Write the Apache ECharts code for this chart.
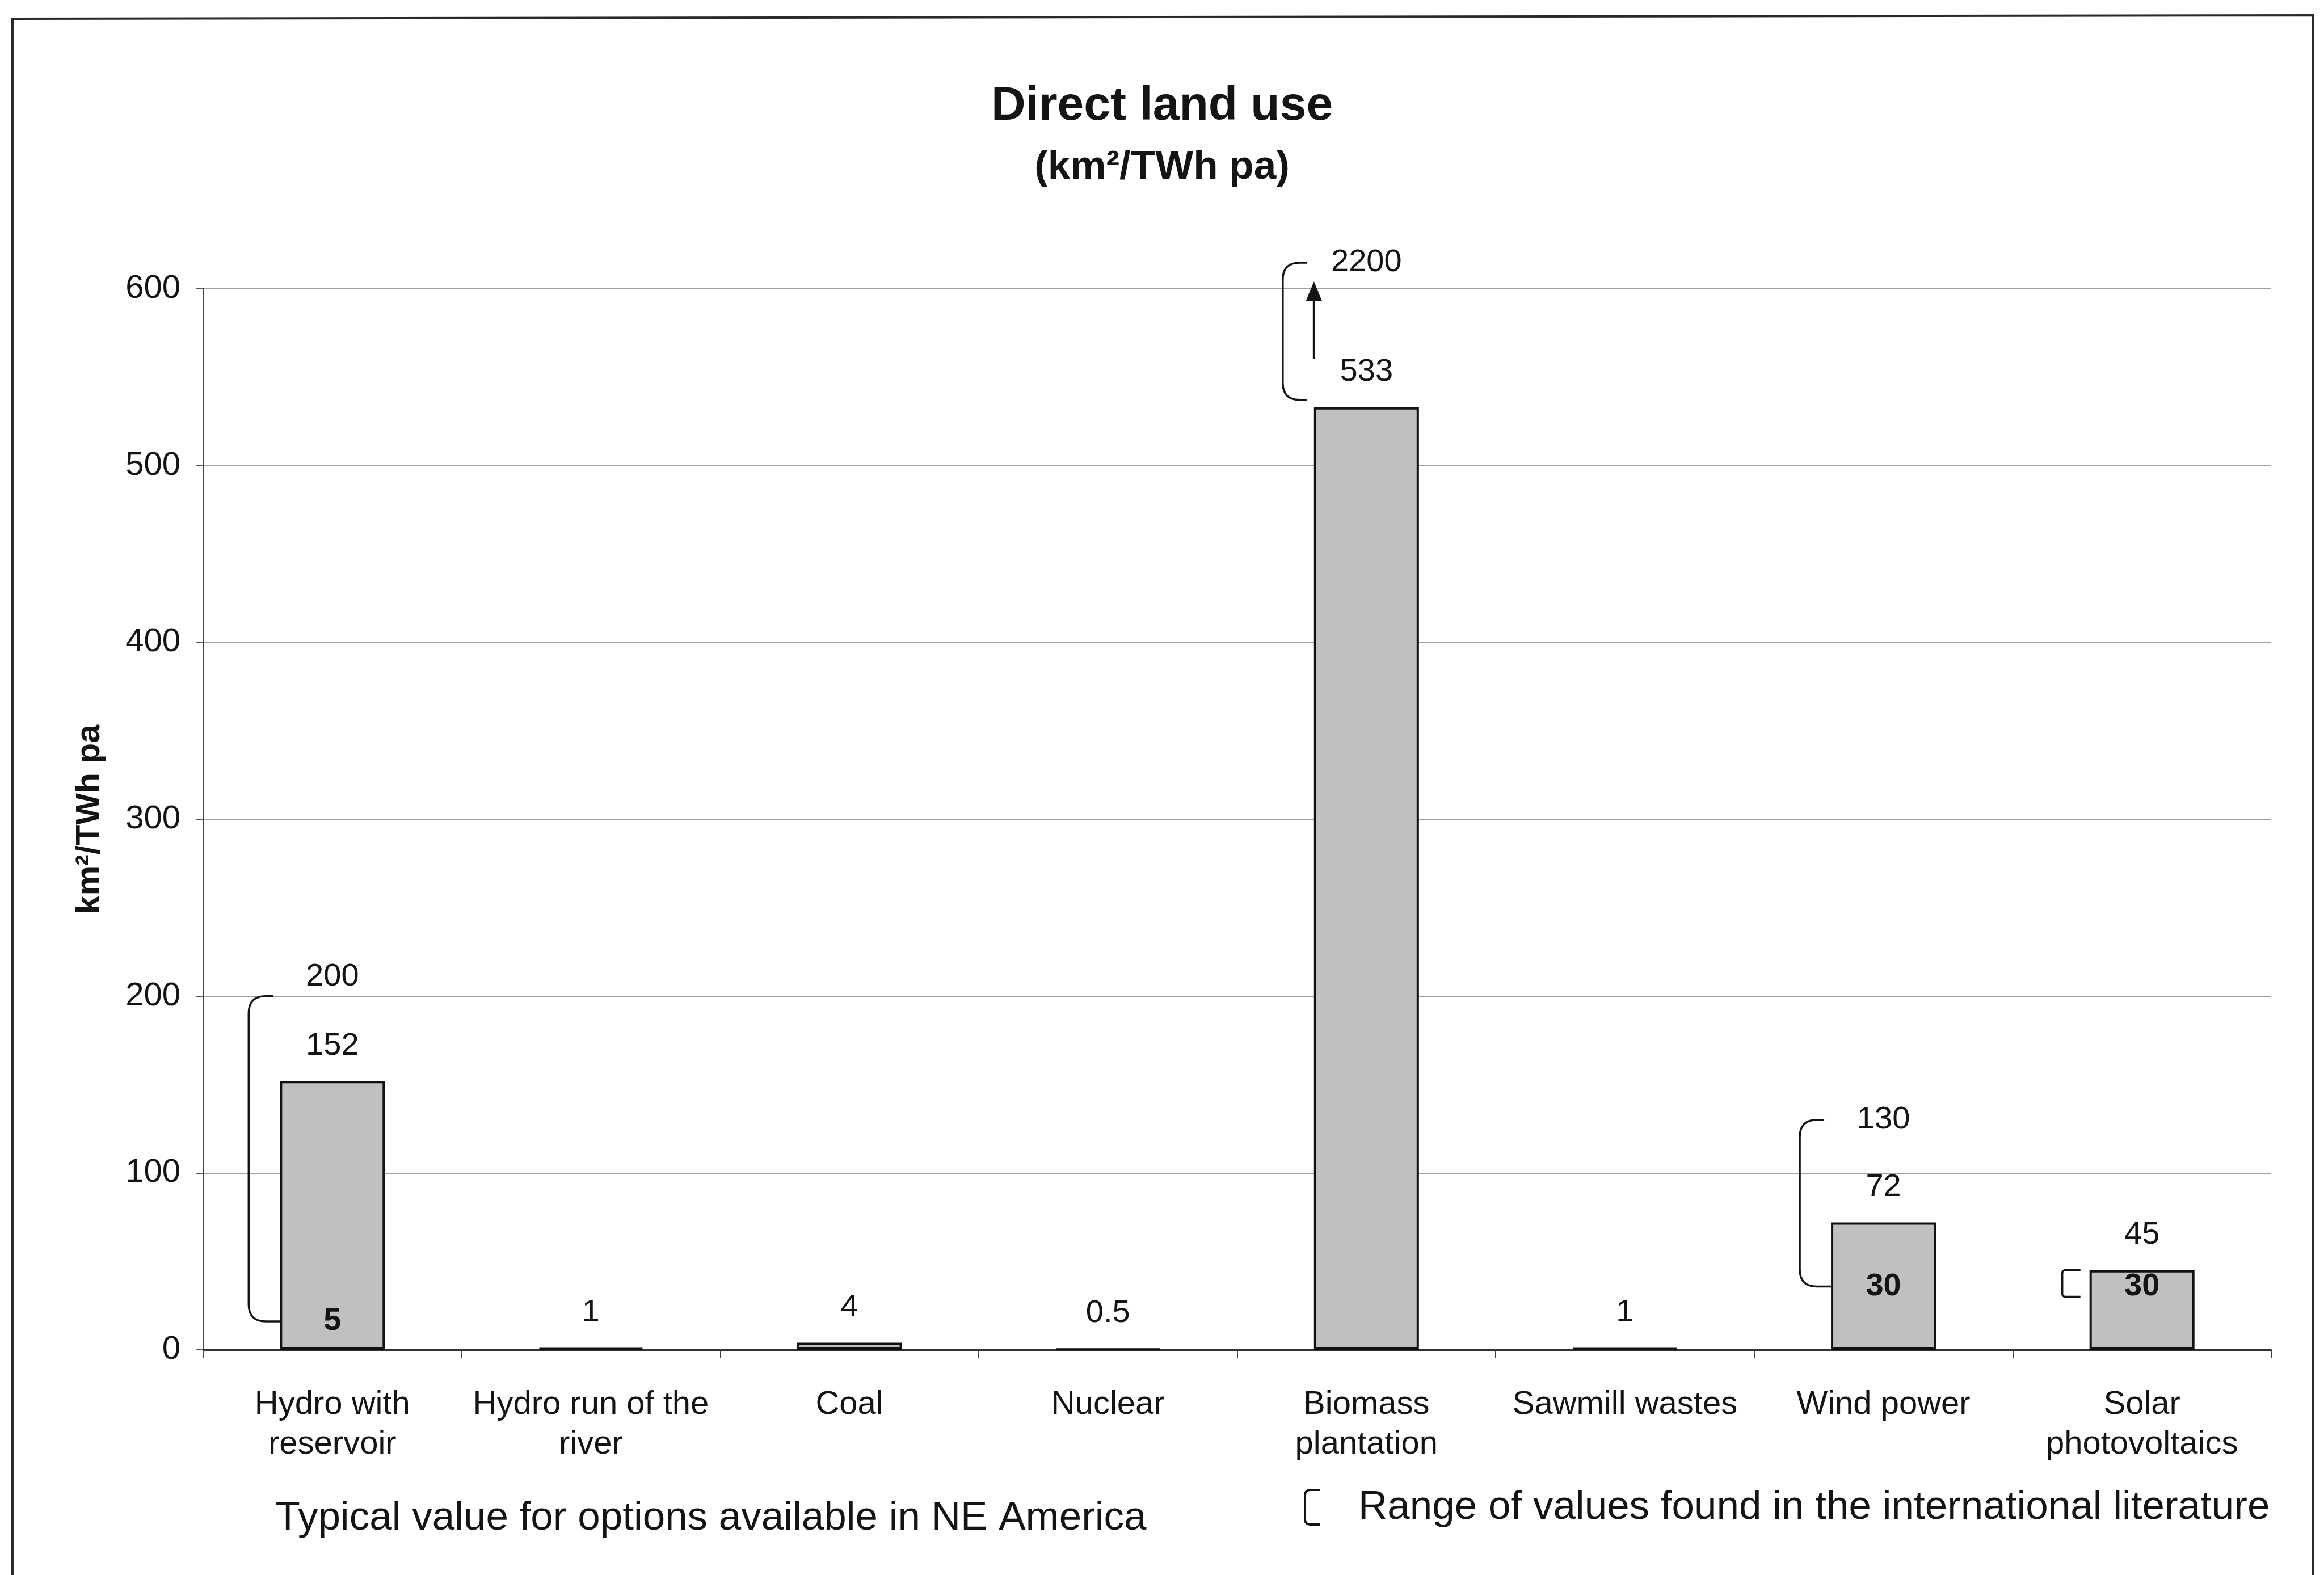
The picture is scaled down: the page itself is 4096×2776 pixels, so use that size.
<!DOCTYPE html>
<html>
<head>
<meta charset="utf-8">
<script src="https://cdn.jsdelivr.net/npm/echarts@6/dist/echarts.min.js"></script>
<style>
html,body{margin:0;padding:0;background:#fff;}
#chart{width:4096px;height:2776px;}
</style>
</head>
<body>
<div id="chart"></div>
<script>
// ---- data ----
const categories = ['Hydro with\nreservoir', 'Hydro run of the\nriver', 'Coal', 'Nuclear',
  'Biomass\nplantation', 'Sawmill wastes', 'Wind power', 'Solar\nphotovoltaics'];
const typicalValues = [152, 1, 4, 0.5, 533, 1, 72, 45];
const rangeLow = [5, null, null, null, 533, null, 30, 30];
const rangeHigh = [200, null, null, null, 2200, null, 130, 45];
const yMin = 0, yMax = 600, yInterval = 100;

// ---- styling ----
const FONT = '"Liberation Sans", Arial, Helvetica, sans-serif';
const BAR_W = 185;
const INK = '#141414';

const rangeData = [];
categories.forEach((c, i) => {
  if (rangeLow[i] != null) rangeData.push([i, rangeLow[i], rangeHigh[i], typicalValues[i]]);
});

function quad(p0, p1, p2, n) {
  const pts = [];
  for (let k = 0; k <= n; k++) {
    const t = k / n, u = 1 - t;
    pts.push([u * u * p0[0] + 2 * u * t * p1[0] + t * t * p2[0],
              u * u * p0[1] + 2 * u * t * p1[1] + t * t * p2[1]]);
  }
  return pts;
}

function bracketPoints(bx, yTop, yBot, topEnd, botEnd, r) {
  let pts = [[topEnd, yTop]];
  pts = pts.concat(quad([bx + r, yTop], [bx, yTop], [bx, yTop + r], 8));
  pts = pts.concat(quad([bx, yBot - r], [bx, yBot], [bx + r, yBot], 8));
  pts.push([botEnd, yBot]);
  return pts;
}

function renderBracket(params, api) {
  const i = api.value(0), low = api.value(1), high = api.value(2), val = api.value(3);
  const base = api.coord([i, 0]);
  const cx = base[0], y0 = base[1];
  const yTopAxis = api.coord([i, yMax])[1];
  const barLeft = cx - BAR_W / 2;
  const clipped = high > yMax;
  const yTop = clipped ? yTopAxis - 46 : api.coord([i, high])[1];
  const yLow = api.coord([i, low])[1];
  const small = (yLow - yTop) < 100;
  let yBot, labelY = null;
  if (low >= val) {
    yBot = yLow - 13;
  } else {
    labelY = Math.min(yLow - 18, y0 - 50);
    yBot = small ? yLow : labelY;
  }
  const span = yBot - yTop;
  const bx = small ? barLeft - 48 : barLeft - 55;
  const r = Math.min(30, span / 8);
  const topEnd = small ? barLeft - 16 : barLeft - 12;
  const botEnd = (labelY !== null && !small) ? barLeft : topEnd;
  const children = [{
    type: 'polyline', shape: { points: bracketPoints(bx, yTop, yBot, topEnd, botEnd, r) },
    style: { stroke: INK, lineWidth: 3.5, fill: null }
  }];
  if (high > val) {
    const dy = (i === 0) ? -34 : 0;
    children.push({
      type: 'text',
      style: { text: String(high), x: cx, y: yTop + dy, align: 'center', verticalAlign: 'middle',
        fontSize: 56, fontFamily: FONT, fill: INK }
    });
  }
  if (labelY !== null) {
    children.push({
      type: 'text',
      style: { text: String(low), x: cx, y: labelY, align: 'center', verticalAlign: 'middle',
        fontSize: 56, fontWeight: 'bold', fontFamily: FONT, fill: INK }
    });
  }
  if (clipped) {
    const ax = barLeft;
    const yTail = api.coord([i, val])[1] - 85;
    const yTip = yTopAxis - 13;
    children.push({
      type: 'line', shape: { x1: ax, y1: yTail, x2: ax, y2: yTip + 30 },
      style: { stroke: INK, lineWidth: 4 }
    });
    children.push({
      type: 'polygon', shape: { points: [[ax, yTip], [ax - 14, yTip + 34], [ax + 14, yTip + 34]] },
      style: { fill: INK }
    });
  }
  return { type: 'group', children: children };
}

const legendBracket = bracketPoints(2300, 2626, 2687, 2326, 2326, 10);

const chart = echarts.init(document.getElementById('chart'), null, { renderer: 'canvas' });
chart.setOption({
  backgroundColor: '#ffffff',
  animation: false,
  title: {
    text: 'Direct land use',
    subtext: '(km²/TWh pa)',
    left: 'center',
    top: 140,
    itemGap: 28,
    textStyle: { fontSize: 84, fontWeight: 'bold', fontFamily: FONT, color: INK, lineHeight: 86 },
    subtextStyle: { fontSize: 71, fontWeight: 'bold', fontFamily: FONT, color: INK, lineHeight: 72 }
  },
  grid: { left: 358, right: 93, top: 509, bottom: 397, containLabel: false },
  xAxis: {
    type: 'category',
    data: categories,
    axisLine: { lineStyle: { color: '#333', width: 3 } },
    axisTick: { show: true, length: 15, lineStyle: { color: '#444', width: 2 } },
    axisLabel: { fontSize: 58, lineHeight: 70, fontFamily: FONT, color: INK, margin: 62, interval: 0 }
  },
  yAxis: {
    type: 'value',
    min: yMin, max: yMax, interval: yInterval,
    name: 'km²/TWh pa',
    nameLocation: 'middle',
    nameRotate: 90,
    nameGap: 170,
    nameTextStyle: { fontSize: 59, fontWeight: 'bold', fontFamily: FONT, color: INK },
    axisLine: { show: true, lineStyle: { color: '#444', width: 3 } },
    axisTick: { show: true, length: 12, lineStyle: { color: '#555', width: 2 } },
    axisLabel: { fontSize: 58, fontFamily: FONT, color: INK, margin: 40 },
    splitLine: { show: true, lineStyle: { color: '#a0a0a0', width: 2 } }
  },
  series: [{
    type: 'bar',
    data: typicalValues,
    barWidth: BAR_W,
    itemStyle: { color: '#c0c0c0', borderColor: '#111', borderWidth: 4 },
    label: { show: true, position: 'top', distance: 34, fontSize: 56, fontFamily: FONT, color: INK },
    z: 2
  }, {
    type: 'custom',
    data: rangeData,
    renderItem: renderBracket,
    clip: false,
    z: 5
  }],
  graphic: [
    { type: 'polyline', shape: { points: [[22, 2776], [22, 33], [4076, 27], [4076, 2776]] },
      style: { stroke: '#2a2a2a', lineWidth: 4, fill: null }, silent: true },
    { type: 'text', style: { text: 'Typical value for options available in NE America', x: 1253, y: 2676,
      align: 'center', verticalAlign: 'middle', fontSize: 71, fontFamily: FONT, fill: INK } },
    { type: 'polyline', shape: { points: legendBracket },
      style: { stroke: INK, lineWidth: 4, fill: null } },
    { type: 'text', style: { text: 'Range of values found in the international literature', x: 2394, y: 2657,
      align: 'left', verticalAlign: 'middle', fontSize: 71, fontFamily: FONT, fill: INK } }
  ]
});
</script>
</body>
</html>
